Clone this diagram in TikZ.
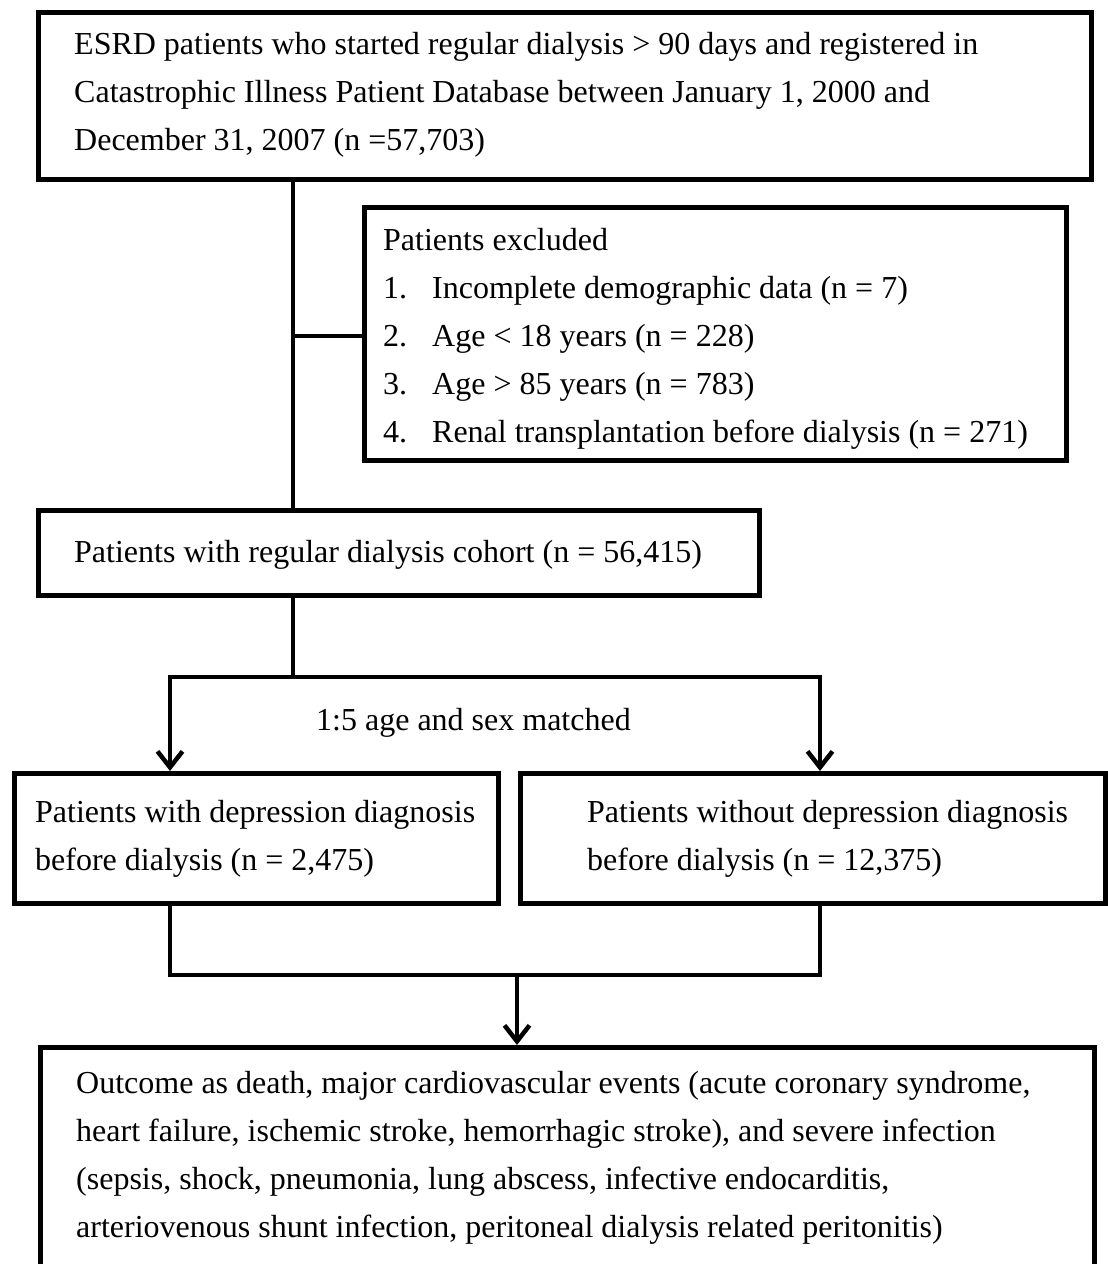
\documentclass[tikz,border=0pt]{standalone}
\usepackage{fontspec}
\setmainfont{Liberation Serif}
\usetikzlibrary{arrows.meta}
\begin{document}
\begin{tikzpicture}[x=1pt,y=-1pt,
  box/.style={draw=black, line width=4.5pt, rectangle, inner sep=0pt, anchor=north west},
  txt/.style={anchor=north west, inner sep=0pt, align=left, font=\fontsize{32}{48}\selectfont},
  conn/.style={draw=black, line width=4.5pt},
  arr/.style={conn, -{Straight Barb[length=16pt,width=25pt,line width=4.5pt]}}
]
\useasboundingbox (0,0) rectangle (1108,1264);
% boxes
\node[box, minimum width=1053pt, minimum height=167pt] (top) at (36,10) {};
\node[box, minimum width=702pt, minimum height=253pt] (excl) at (362,205) {};
\node[box, minimum width=721pt, minimum height=85pt] (cohort) at (36,508) {};
\node[box, minimum width=484pt, minimum height=130pt] (dep) at (12,771) {};
\node[box, minimum width=585pt, minimum height=130pt] (nodep) at (518,771) {};
\node[box, minimum width=1054pt, minimum height=230pt] (outcome) at (38,1045) {};
% texts
\node[txt] (toptxt) at (74,20.4) {\strut ESRD patients who started regular dialysis > 90 days and registered in\\
Catastrophic Illness Patient Database between January 1, 2000 and\\
December 31, 2007 (n =57,703)};
\node[txt] (excltxt) at (383,216.4) {\strut Patients excluded\\
\makebox[49pt][l]{1.}Incomplete demographic data (n = 7)\\
\makebox[49pt][l]{2.}Age < 18 years (n = 228)\\
\makebox[49pt][l]{3.}Age > 85 years (n = 783)\\
\makebox[49pt][l]{4.}Renal transplantation before dialysis (n = 271)};
\node[txt] (cohorttxt) at (74,528.4) {\strut Patients with regular dialysis cohort (n = 56,415)};
\node[txt] (matchtxt) at (316,696.4) {\strut 1:5 age and sex matched};
\node[txt] (deptxt) at (35,788.4) {\strut Patients with depression diagnosis\\
before dialysis (n = 2,475)};
\node[txt] (nodeptxt) at (587,788.4) {\strut Patients without depression diagnosis\\
before dialysis (n = 12,375)};
\node[txt] (outtxt) at (76,1059.4) {\strut Outcome as death, major cardiovascular events (acute coronary syndrome,\\
heart failure, ischemic stroke, hemorrhagic stroke), and severe infection\\
(sepsis, shock, pneumonia, lung abscess, infective endocarditis,\\
arteriovenous shunt infection, peritoneal dialysis related peritonitis)};
% connector coordinates
\coordinate (trunk) at (293,336);
\coordinate (split) at (293,677);
\coordinate (sl) at (170,677);
\coordinate (sr) at (820,677);
\coordinate (ml) at (170,975);
\coordinate (mr) at (820,975);
\coordinate (mm) at (517,975);
% connectors
\draw[conn] (top.south -| trunk) -- (cohort.north -| trunk);
\draw[conn] (trunk) -- (trunk -| excl.west);
\draw[conn] (cohort.south -| split) -- (split);
\draw[conn] ([xshift=-2.25pt]sl) -- ([xshift=2.25pt]sr);
\draw[arr] (sl) -- (sl |- dep.north);
\draw[arr] (sr) -- (sr |- nodep.north);
\draw[conn] (dep.south -| ml) -- ([yshift=2.25pt]ml);
\draw[conn] (nodep.south -| mr) -- ([yshift=2.25pt]mr);
\draw[conn] ([xshift=-2.25pt]ml) -- ([xshift=2.25pt]mr);
\draw[arr] (mm) -- (mm |- outcome.north);
\end{tikzpicture}
\end{document}
